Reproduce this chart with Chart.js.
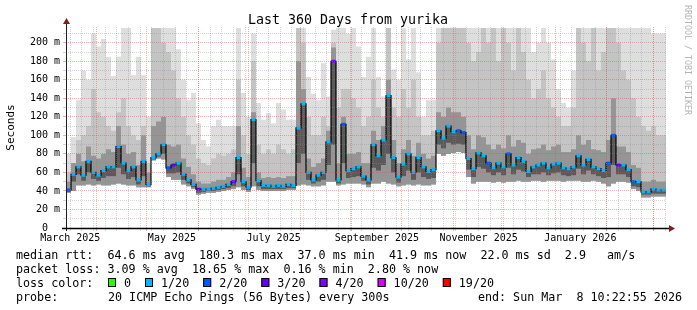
<!DOCTYPE html>
<html>
<head>
<meta charset="utf-8">
<script src="https://cdn.jsdelivr.net/npm/chart.js@4.4.1/dist/chart.umd.min.js"></script>
<style>
html, body { margin: 0; padding: 0; background: #fff; }
canvas { display: block; }
</style>
</head>
<body>
<canvas id="smoke" width="697" height="310"></canvas>
<script>
// one value every 3 days, 120 steps over the last 360 days
var median = [41, 58, 66, 57, 72, 60, 57, 62, 66, 66, 88, 70, 62, 66, 52, 72, 47, 76, 80, 90,
    65, 68, 70, 58, 52, 47, 42, 42, 42, 43, 44, 45, 47, 50, 76, 50, 44, 117, 51, 46,
    46, 45, 46, 45, 47, 46, 108, 134, 60, 52, 57, 60, 93, 180, 52, 112, 62, 64, 66, 56,
    52, 90, 78, 95, 143, 76, 55, 69, 80, 60, 76, 66, 61, 63, 105, 97, 110, 104, 105, 103,
    75, 64, 81, 78, 70, 65, 70, 66, 80, 68, 76, 72, 61, 66, 68, 70, 65, 69, 70, 65,
    64, 66, 78, 68, 74, 66, 64, 62, 70, 100, 68, 68, 63, 50, 50, 39, 39, 42, 41, 41];

// lost pings out of 20 for each step
var loss = [2, 1, 1, 1, 1, 1, 1, 1, 1, 1, 1, 1, 1, 1, 1, 1, 1, 1, 1, 1,
    2, 3, 1, 1, 1, 1, 3, 1, 1, 1, 1, 1, 1, 3, 1, 1, 1, 1, 1, 1,
    1, 1, 1, 1, 1, 1, 1, 1, 1, 1, 1, 1, 1, 4, 1, 2, 1, 1, 1, 1,
    1, 1, 1, 1, 1, 1, 1, 1, 1, 1, 1, 1, 1, 1, 1, 1, 1, 1, 2, 2,
    1, 1, 1, 1, 2, 1, 1, 1, 2, 1, 1, 1, 1, 1, 1, 1, 1, 1, 1, 1,
    1, 1, 1, 1, 1, 1, 1, 1, 2, 2, 3, 1, 1, 2, 1, 1, 1, 1, 1, 1];

// smoke: lowest ping, start of the dark core, top of dark, top of medium, highest ping
var smokeLo = [38, 40, 46, 46, 47, 46, 47, 46, 46, 47, 48, 47, 46, 46, 44, 44, 44, 73, 75, 74,
    55, 52, 52, 47, 45, 42, 36, 37, 38, 38, 39, 40, 41, 42, 44, 41, 39, 45, 41, 40,
    40, 40, 40, 40, 41, 41, 46, 47, 46, 45, 45, 46, 50, 50, 46, 47, 48, 48, 48, 47,
    44, 48, 48, 50, 48, 47, 45, 46, 47, 46, 47, 46, 46, 47, 80, 78, 80, 81, 82, 81,
    55, 48, 50, 50, 50, 49, 50, 49, 50, 50, 51, 50, 50, 51, 51, 50, 51, 51, 51, 50,
    51, 51, 51, 50, 50, 51, 50, 48, 45, 48, 50, 50, 49, 42, 40, 33, 33, 34, 34, 34];

var smokeBase = [39, 50, 58, 51, 60, 53, 51, 54, 56, 56, 65, 58, 53, 55, 47, 56, 45, 74, 77, 80,
    59, 59, 60, 52, 48, 44, 38, 39, 40, 40, 41, 42, 43, 45, 58, 45, 41, 70, 45, 42,
    42, 42, 42, 42, 43, 43, 70, 80, 52, 48, 50, 52, 68, 90, 48, 70, 54, 55, 56, 51,
    47, 65, 62, 68, 80, 60, 49, 56, 62, 52, 60, 55, 53, 54, 90, 86, 92, 90, 91, 90,
    63, 55, 66, 64, 60, 57, 60, 57, 65, 58, 63, 61, 55, 58, 58, 60, 57, 59, 60, 57,
    56, 57, 64, 58, 62, 58, 56, 54, 55, 68, 58, 58, 55, 45, 44, 36, 36, 37, 37, 37];

var smokeDark = [50, 70, 80, 72, 88, 78, 75, 80, 85, 82, 110, 90, 80, 82, 68, 100, 60, 110, 115, 120,
    90, 88, 90, 75, 66, 58, 50, 48, 48, 50, 52, 52, 55, 60, 110, 65, 55, 125, 60, 54,
    55, 54, 55, 54, 56, 56, 180, 150, 75, 66, 70, 75, 105, 195, 70, 120, 80, 80, 82, 70,
    70, 105, 95, 110, 160, 95, 70, 85, 95, 78, 92, 80, 75, 78, 125, 120, 130, 125, 125, 120,
    100, 85, 100, 98, 90, 85, 90, 86, 100, 88, 95, 92, 80, 85, 86, 90, 84, 88, 90, 82,
    82, 85, 100, 90, 95, 85, 84, 82, 95, 140, 88, 88, 82, 68, 65, 50, 50, 52, 50, 50];

var smokeMid = [60, 70, 95, 100, 110, 150, 125, 120, 110, 105, 125, 140, 110, 100, 95, 110, 70, 216, 216, 200,
    190, 170, 140, 120, 100, 90, 75, 70, 68, 75, 80, 78, 80, 85, 160, 100, 80, 180, 90, 80,
    85, 80, 90, 85, 80, 85, 216, 200, 120, 100, 100, 120, 110, 200, 130, 150, 150, 140, 130, 110,
    120, 160, 130, 120, 216, 130, 120, 150, 130, 160, 120, 100, 100, 105, 200, 216, 216, 216, 216, 216,
    200, 180, 190, 216, 200, 216, 180, 216, 200, 170, 216, 190, 160, 140, 150, 170, 140, 130, 120, 110,
    110, 130, 216, 200, 180, 216, 170, 190, 216, 216, 200, 170, 160, 140, 120, 110, 105, 110, 100, 100];

var smokeHi = [80, 98, 138, 170, 160, 210, 196, 204, 185, 164, 185, 216, 216, 165, 185, 165, 120, 216, 216, 216,
    216, 216, 193, 160, 138, 146, 113, 95, 88, 110, 117, 110, 110, 110, 216, 146, 120, 210, 135, 117,
    124, 113, 135, 128, 117, 117, 216, 216, 163, 145, 138, 178, 142, 214, 216, 216, 210, 216, 196, 163,
    185, 216, 163, 142, 216, 171, 160, 216, 182, 216, 168, 120, 138, 138, 216, 216, 216, 216, 216, 216,
    216, 216, 216, 216, 216, 216, 216, 216, 216, 216, 216, 216, 216, 190, 200, 216, 200, 182, 150, 135,
    130, 170, 216, 216, 216, 216, 216, 216, 216, 216, 216, 216, 216, 216, 216, 216, 216, 210, 210, 210];

var yTicks = [0, 20, 40, 60, 80, 100, 120, 140, 160, 180, 200];
var xLabels = ['March 2025', 'May 2025', 'July 2025', 'September 2025', 'November 2025', 'January 2026'];
var xLabelMonths = [[2025, 2], [2025, 4], [2025, 6], [2025, 8], [2025, 10], [2026, 0]];

var lossColors = { 0: '#26ff00', 1: '#00b8ff', 2: '#0059ff', 3: '#5e00ff', 4: '#7e00ff', 10: '#dd00ff', 19: '#ff0000' };
var lossLegend = [['0', 0], ['1/20', 1], ['2/20', 2], ['3/20', 3], ['4/20', 4], ['10/20', 10], ['19/20', 19]];

var DAY = 86400000;
var start = Date.UTC(2025, 2, 13, 10, 22, 55);
function dayOf(y, m, d) { return (Date.UTC(y, m, d) - start) / DAY; }

// x grid: weekly lines on sundays, month starts, and label positions mid-month
var xTickList = [];
for (var d = dayOf(2025, 2, 16); d < 360; d += 7) xTickList.push({ v: d, kind: 'week', label: '' });
for (var m = 3; m <= 14; m++) xTickList.push({ v: dayOf(2025, m, 1), kind: 'month', label: '' });
xLabels.forEach(function (l, i) {
    xTickList.push({ v: dayOf(xLabelMonths[i][0], xLabelMonths[i][1], 16), kind: 'label', label: l });
});
xTickList.sort(function (a, b) { return a.v - b.v; });

var yGrid = [];
for (var g = 0; g <= 210; g += 10) yGrid.push(g);

var minorGrid = 'rgba(143,143,143,0.38)';
var majorGrid = 'rgba(222,79,79,0.45)';

var binDays = 3;
var xs = median.map(function (v, i) { return (i + 0.5) * binDays; });
function band(lo, hi) {
    return lo.map(function (v, i) { return { x: xs[i], y: [v, hi[i]] }; });
}

var rrdText = {
    id: 'rrdText',
    afterDraw: function (chart) {
        var ctx = chart.ctx;
        var a = chart.chartArea;
        ctx.save();

        ctx.strokeStyle = '#1f1f1f';
        ctx.lineWidth = 1;
        ctx.beginPath();
        ctx.moveTo(a.left + 0.5, a.bottom + 3);
        ctx.lineTo(a.left + 0.5, a.top - 5);
        ctx.stroke();
        ctx.strokeStyle = '#000';
        ctx.lineWidth = 1.5;
        ctx.beginPath();
        ctx.moveTo(a.left - 4, a.bottom + 0.5);
        ctx.lineTo(a.right + 4, a.bottom + 0.5);
        ctx.stroke();

        ctx.fillStyle = '#7f1f1f';
        ctx.beginPath();
        ctx.moveTo(a.left + 0.5, a.top - 9);
        ctx.lineTo(a.left - 3, a.top - 3);
        ctx.lineTo(a.left + 4, a.top - 3);
        ctx.closePath();
        ctx.fill();
        ctx.beginPath();
        ctx.moveTo(a.right + 9, a.bottom + 0.5);
        ctx.lineTo(a.right + 3, a.bottom - 3);
        ctx.lineTo(a.right + 3, a.bottom + 4);
        ctx.closePath();
        ctx.fill();

        ctx.fillStyle = '#000';
        ctx.textBaseline = 'alphabetic';
        ctx.textAlign = 'center';
        ctx.font = '13.3px "DejaVu Sans Mono"';
        ctx.fillText('Last 360 Days from yurika', 348, 23.5);

        ctx.save();
        ctx.translate(684.5, 5);
        ctx.rotate(Math.PI / 2);
        ctx.textAlign = 'left';
        ctx.fillStyle = '#b4b4b4';
        ctx.font = '8.3px "DejaVu Sans Mono"';
        ctx.fillText('RRDTOOL / TOBI OETIKER', 0, 0);
        ctx.restore();

        ctx.textAlign = 'left';
        ctx.font = '11.7px "DejaVu Sans Mono"';
        ctx.fillText('median rtt:  64.6 ms avg  180.3 ms max  37.0 ms min  41.9 ms now  22.0 ms sd  2.9   am/s', 16, 258.5);
        ctx.fillText('packet loss: 3.09 % avg  18.65 % max  0.16 % min  2.80 % now', 16, 272.5);
        ctx.fillText('loss color:', 16, 286.5);
        var x = 108;
        lossLegend.forEach(function (e) {
            ctx.fillStyle = lossColors[e[1]];
            ctx.fillRect(x, 278, 8, 9);
            ctx.strokeStyle = '#000';
            ctx.lineWidth = 1;
            ctx.strokeRect(x + 0.5, 278.5, 7, 8);
            ctx.fillStyle = '#000';
            ctx.fillText(e[0], x + 16, 286.5);
            x += 16 + ctx.measureText(e[0]).width + 14;
        });
        ctx.fillText('probe:', 16, 300.5);
        ctx.fillText('20 ICMP Echo Pings (56 Bytes) every 300s', 108, 300.5);
        ctx.textAlign = 'right';
        ctx.fillText('end: Sun Mar  8 10:22:55 2026', 682, 300.5);
        ctx.restore();
    }
};

Chart.defaults.font.family = '"DejaVu Sans Mono", monospace';
Chart.defaults.color = '#000';

var smokeChart = new Chart(document.getElementById('smoke'), {
    type: 'bar',
    data: {
        datasets: [{
            type: 'line',
            label: 'median rtt',
            data: median.map(function (v, i) { return { x: xs[i], y: v }; }),
            stepped: 'middle',
            borderColor: '#000',
            borderWidth: 1.2,
            pointStyle: 'line',
            pointRadius: 2,
            pointBorderWidth: 3,
            pointBorderColor: loss.map(function (n) { return lossColors[n]; }),
            order: 0
        }, {
            label: 'core',
            data: band(smokeBase, median),
            backgroundColor: '#5a5a5a',
            order: 1
        }, {
            label: 'dark',
            data: band(smokeLo, smokeDark),
            backgroundColor: '#959595',
            order: 2
        }, {
            label: 'mid',
            data: band(smokeLo, smokeMid),
            backgroundColor: '#c4c4c4',
            order: 3
        }, {
            label: 'light',
            data: band(smokeLo, smokeHi),
            backgroundColor: '#dedede',
            order: 4
        }]
    },
    options: {
        responsive: false,
        devicePixelRatio: 1,
        animation: false,
        events: [],
        layout: { padding: { left: 0, right: 31, top: 27, bottom: 0 } },
        datasets: {
            bar: { barThickness: 5, grouped: false, inflateAmount: 0, borderWidth: 0 }
        },
        plugins: {
            legend: { display: false },
            title: { display: false },
            tooltip: { enabled: false }
        },
        scales: {
            x: {
                type: 'linear',
                min: 0,
                max: 360,
                offset: false,
                afterFit: function (s) { s.height = 82; },
                afterBuildTicks: function (s) { s.ticks = xTickList.map(function (t) { return { value: t.v }; }); },
                ticks: {
                    autoSkip: false,
                    maxRotation: 0,
                    minRotation: 0,
                    padding: 1,
                    font: { size: 10 },
                    callback: function (v, i) { return xTickList[i].label; }
                },
                grid: {
                    z: 1,
                    offset: false,
                    tickLength: 3,
                    color: function (c) {
                        var k = xTickList[c.index] ? xTickList[c.index].kind : 'label';
                        return k === 'month' ? majorGrid : (k === 'week' ? minorGrid : 'rgba(0,0,0,0)');
                    }
                },
                border: { display: false, dash: [1, 1] }
            },
            y: {
                min: 0,
                max: 217,
                afterFit: function (s) { s.width = 66; },
                afterBuildTicks: function (s) { s.ticks = yGrid.map(function (v) { return { value: v }; }); },
                ticks: {
                    autoSkip: false,
                    padding: 3,
                    font: { size: 10 },
                    callback: function (v) {
                        if (yTicks.indexOf(v) < 0) return '';
                        return v === 0 ? '0  ' : v + ' m';
                    }
                },
                grid: {
                    z: 1,
                    tickLength: 3,
                    color: function (c) {
                        var v = c.tick ? c.tick.value : 0;
                        return yTicks.indexOf(v) >= 0 ? majorGrid : minorGrid;
                    }
                },
                border: { display: false, dash: [1, 1] },
                title: {
                    display: true,
                    text: 'Seconds',
                    font: { size: 11 },
                    padding: { top: 5, bottom: 0 }
                }
            }
        }
    },
    plugins: [rrdText]
});
</script>
</body>
</html>
